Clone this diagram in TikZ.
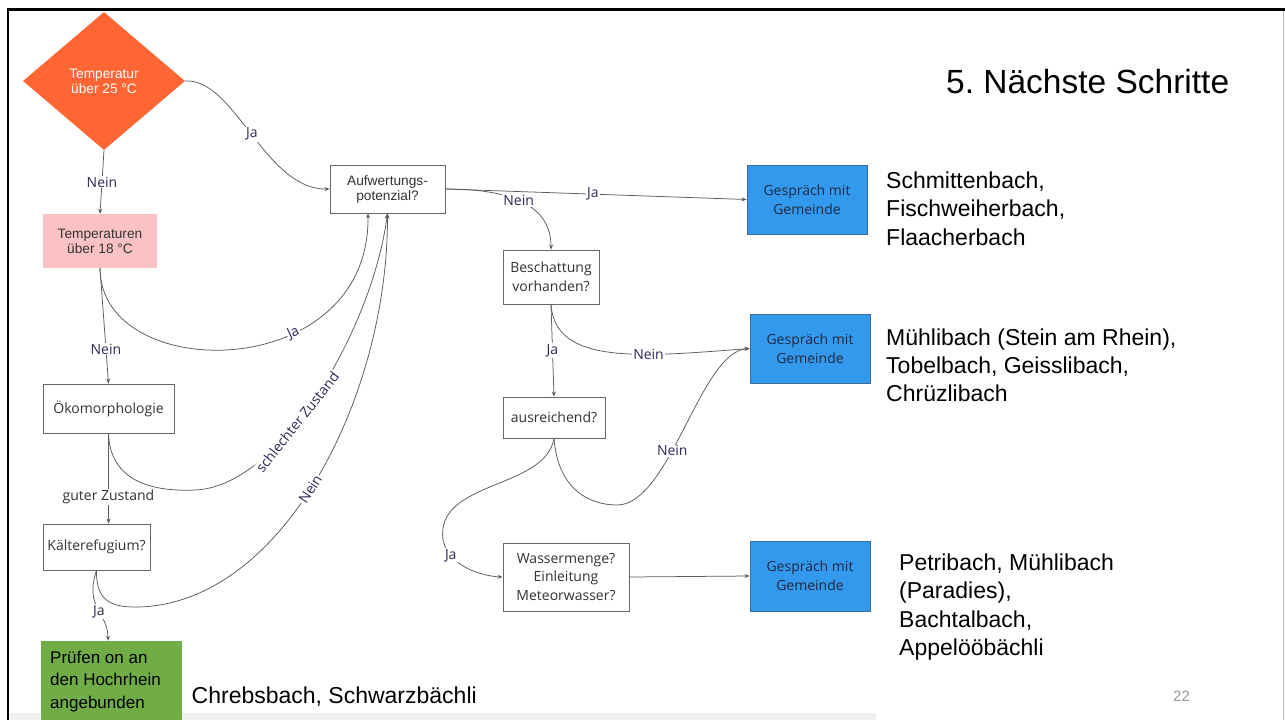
\documentclass[tikz,border=0pt]{standalone}
\usepackage{fontspec}
\setmainfont{Liberation Sans}
\newfontfamily\osans{Open Sans}
\usetikzlibrary{shapes.geometric,arrows.meta,calc}
\frenchspacing
\definecolor{orng}{HTML}{FF6633}
\definecolor{pinkc}{HTML}{FBC2C5}
\definecolor{greenc}{HTML}{70AD47}
\definecolor{bluec}{HTML}{3399EC}
\definecolor{bluebd}{HTML}{3D6A94}
\definecolor{linec}{HTML}{5A5A5A}
\definecolor{boxc}{HTML}{666666}
\definecolor{navy}{HTML}{2D2B55}
\definecolor{txtc}{HTML}{333333}
\definecolor{btxt}{HTML}{1E2A44}
\tikzset{
  conn/.style={draw=linec, line width=0.75pt, -{Stealth[length=5pt,width=4pt]}},
  lbl/.style={fill=white, inner sep=1pt, text=navy, font=\osans\fontsize{14}{16}\selectfont},
  wbox/.style={draw=boxc, line width=0.9pt, fill=white, inner sep=0pt, align=center, text=txtc, font=\osans\fontsize{14}{18.7}\selectfont},
  bbox/.style={draw=bluebd, line width=0.9pt, fill=bluec, inner sep=0pt, align=center, text=btxt, font=\osans\fontsize{14}{18.7}\selectfont, minimum width=120pt},
  abox/.style={inner sep=0pt, align=center, text=txtc, font=\fontsize{13.7}{15}\selectfont},
  rtext/.style={anchor=base west, inner sep=0pt, text=black, font=\fontsize{23}{28}\selectfont},
  gtext/.style={anchor=base west, inner sep=0pt, text=black, font=\fontsize{17}{22}\selectfont},
}
\begin{document}
\begin{tikzpicture}[x=1pt,y=-1pt]
\useasboundingbox (0,0) rectangle (1285,720);
\fill[white] (0,0) rectangle (1285,720);
% slide frame
\fill[gray!12] (9.5,713) rectangle (876,720);
\draw[line width=3pt, black] (6.5,9.5) -- (1285,9.5);
\draw[line width=2.5pt, black] (8,8) -- (8,720);
\draw[gray!55, line width=0.8pt] (1283,11) -- (1283,720);

% nodes
\node[diamond, fill=orng, minimum width=162pt, minimum height=138pt, inner sep=0pt, align=center, text=white, font=\fontsize{13.7}{15}\selectfont] (d) at (104,81) {Temperatur\\über 25 °C};
\node[abox, fill=pinkc, minimum width=114pt, minimum height=54pt] (pink) at (100,241) {Temperaturen\\über 18 °C};
\node[wbox, minimum width=131pt, minimum height=49pt] (oko) at (108.5,408.5) {Ökomorphologie};
\node[wbox, minimum width=107pt, minimum height=46pt] (kalt) at (96.5,547) {Kälterefugium?};
\node[fill=greenc, minimum width=141pt, minimum height=80pt, inner sep=0pt] (green) at (111.5,681) {};
\node[abox, draw=boxc, line width=0.9pt, minimum width=115pt, minimum height=48pt] (auf) at (387.5,189) {Aufwertungs-\\potenzial?};
\node[wbox, minimum width=96pt, minimum height=54pt] (besch) at (551,277) {Beschattung\\vorhanden?};
\node[wbox, minimum width=102pt, minimum height=41pt] (aus) at (554,417.5) {ausreichend?};
\node[wbox, minimum width=126pt, minimum height=68pt] (wass) at (566,577) {Wassermenge?\\Einleitung\\Meteorwasser?};
\node[bbox, minimum height=69pt] (g1) at (807,199.5) {Gespräch mit\\Gemeinde};
\node[bbox, minimum height=69pt] (g2) at (810,348.5) {Gespräch mit\\Gemeinde};
\node[bbox, minimum height=70pt] (g3) at (810,576) {Gespräch mit\\Gemeinde};

% green box text
\node[gtext] (gt1) at (50,663) {Prüfen on an};
\node[gtext] (gt2) at (50,685.5) {den Hochrhein};
\node[gtext] (gt3) at (50,708) {angebunden};

% texts
\node[anchor=base west, inner sep=0pt, font=\fontsize{33.5}{38}\selectfont] (title) at (946,93.5) {5. Nächste Schritte};
\node[rtext] (r1a) at (886,188.5) {Schmittenbach,};
\node[rtext] (r1b) at (886,216.8) {Fischweiherbach,};
\node[rtext] (r1c) at (886,245) {Flaacherbach};
\node[rtext] (r2a) at (886,345) {Mühlibach (Stein am Rhein),};
\node[rtext] (r2b) at (886,373.3) {Tobelbach, Geisslibach,};
\node[rtext] (r2c) at (886,401.6) {Chrüzlibach};
\node[rtext] (r3a) at (899,570) {Petribach, Mühlibach};
\node[rtext] (r3b) at (899,598.5) {(Paradies),};
\node[rtext] (r3c) at (899,627) {Bachtalbach,};
\node[rtext] (r3d) at (899,655.5) {Appelööbächli};
\node[rtext] (r4) at (191.5,703) {Chrebsbach, Schwarzbächli};
\node[anchor=base west, inner sep=0pt, text=gray!80, font=\fontsize{15}{18}\selectfont] (pg) at (1173,701.5) {22};

% connectors
\draw[conn] (d.east) .. controls (235,78) and (265,190) .. node[lbl] {Ja} (auf.west);
\draw[conn] (d.south) -- node[lbl] {Nein} (pink.north);
\draw[conn] (pink.south) .. controls (100,385) and (370,385) .. node[lbl, pos=0.65, sloped] {Ja} ($(auf.south)+(-19.5,0)$);
\draw[conn] (pink.south) -- node[lbl, pos=0.7] {Nein} (oko.north);
\draw[conn] (oko.south) .. controls (110,480) and (150,492) .. (195,490)
   .. controls (280,487) and (372,330) .. node[lbl, pos=0.41, sloped] {schlechter Zustand} (auf.south);
\draw[conn] (oko.south) -- node[lbl, pos=0.7, text=txtc] {guter Zustand} ($(kalt.north)+(12,0)$);
\draw[conn] (kalt.south) .. controls (96,600) and (110,607) .. (135,607)
   .. controls (280,607) and (388,400) .. node[lbl, pos=0.48, sloped] {Nein} (auf.south);
\draw[conn] (kalt.south) .. controls (84,608) and (108,612) .. node[lbl, pos=0.55] {Ja} ($(green.north)+(-3.5,0)$);
\draw[conn] (auf.east) -- node[lbl, pos=0.49] {Ja} (g1.west);
\draw[conn] (auf.east) .. controls (500,189) and (551,200) .. node[lbl, pos=0.5] {Nein} (besch.north);
\draw[conn] (besch.south) .. controls (555,365) and (640,357) .. node[lbl, pos=0.66] {Nein} (g2.west);
\draw[conn] (besch.south) -- node[lbl, pos=0.5] {Ja} (aus.north);
\draw[conn] (aus.south) .. controls (558,490) and (590,505) .. (617,505)
   .. controls (670,505) and (700,352) .. node[lbl, pos=0.4] {Nein} (g2.west);
\draw[conn] (aus.south) .. controls (545,490) and (435,480) .. (443,540)
   .. controls (448,565) and (480,576) .. node[lbl, pos=0.24] {Ja} (wass.west);
\draw[conn] (wass.east) -- (g3.west);
\end{tikzpicture}
\end{document}
